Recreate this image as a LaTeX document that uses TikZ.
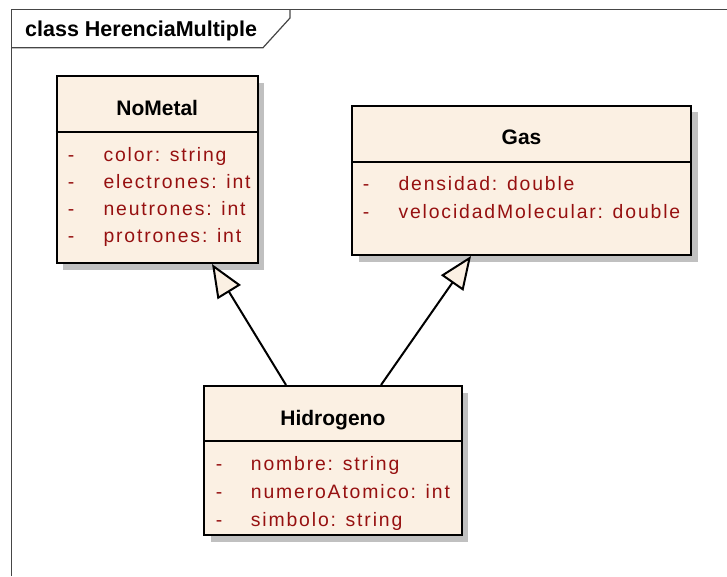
\documentclass[tikz,border=0pt]{standalone}
\usepackage{fontspec}
\setmainfont{Liberation Sans}
\newfontfamily\attrfont[LetterSpace=9.5]{Liberation Sans}
\usetikzlibrary{arrows.meta,shadows}

\definecolor{classfill}{RGB}{251,240,227}
\definecolor{attrred}{RGB}{150,16,16}
\definecolor{shadowgray}{RGB}{192,192,192}
\definecolor{framegray}{RGB}{70,70,70}

\begin{document}
\begin{tikzpicture}[x=1pt,y=-1pt,
  classbox/.style={rectangle, draw=black, line width=2pt, fill=classfill, inner sep=0pt,
    drop shadow={shadow xshift=6.5pt, shadow yshift=-6.5pt, fill=shadowgray, opacity=1}},
  divider/.style={line width=2pt, black},
  classname/.style={font=\fontsize{21}{25}\selectfont\bfseries, anchor=base, inner sep=0pt},
  attr/.style={font=\fontsize{19.4}{23}\attrfont, text=attrred, anchor=base west, inner sep=0pt},
  inherit/.style={line width=2pt, black,
    -{Triangle[open, length=33pt, width=27pt, fill=classfill]}},
  framing/.style={framegray, line width=1.2pt},
]
\useasboundingbox (0,0) rectangle (727,576);

% diagram frame with its name tab
\draw[framing] (11.7,576) -- (11.7,9.3) -- (727,9.3);
\draw[framing] (11.7,47.7) -- (263,47.7) -- (290,18) -- (290,9.3);
\node[font=\fontsize{21.5}{25}\selectfont\bfseries, anchor=base west, inner sep=0pt]
  (frametitle) at (25,36) {class HerenciaMultiple};

% class NoMetal
\node[classbox, minimum width=201pt, minimum height=187pt] (nometal) at (157.2,169.5) {};
\draw[divider] ([yshift=-56.7pt]nometal.north west) -- ([yshift=-56.7pt]nometal.north east);
\node[classname] (nometalname) at (157.2,115) {NoMetal};
\node[attr] (nm1d) at (67.7,161.1) {-};
\node[attr] (nm1) at (103.3,161.1) {color: string};
\node[attr] (nm2d) at (67.7,188.3) {-};
\node[attr] (nm2) at (103.3,188.3) {electrones: int};
\node[attr] (nm3d) at (67.7,215.5) {-};
\node[attr] (nm3) at (103.3,215.5) {neutrones: int};
\node[attr] (nm4d) at (67.7,242.7) {-};
\node[attr] (nm4) at (103.3,242.7) {protrones: int};

% class Gas
\node[classbox, minimum width=339pt, minimum height=149.3pt] (gas) at (521.5,180.35) {};
\draw[divider] ([yshift=-57.3pt]gas.north west) -- ([yshift=-57.3pt]gas.north east);
\node[classname] (gasname) at (521.5,144.3) {Gas};
\node[attr] (g1d) at (362.7,190) {-};
\node[attr] (g1) at (398.3,190) {densidad: double};
\node[attr] (g2d) at (362.7,218.3) {-};
\node[attr] (g2) at (398.3,218.3) {velocidadMolecular: double};

% class Hidrogeno
\node[classbox, minimum width=257.7pt, minimum height=149pt] (hidrogeno) at (332.85,460.5) {};
\draw[divider] ([yshift=-56pt]hidrogeno.north west) -- ([yshift=-56pt]hidrogeno.north east);
\node[classname] (hidrogenoname) at (332.85,425) {Hidrogeno};
\node[attr] (h1d) at (215.7,470.7) {-};
\node[attr] (h1) at (250.7,470.7) {nombre: string};
\node[attr] (h2d) at (215.7,498.3) {-};
\node[attr] (h2) at (250.7,498.3) {numeroAtomico: int};
\node[attr] (h3d) at (215.7,526.7) {-};
\node[attr] (h3) at (250.7,526.7) {simbolo: string};

% generalizations
\draw[inherit] ([xshift=83pt]hidrogeno.north west) -- ([xshift=156.3pt]nometal.south west);
\draw[inherit] ([xshift=178pt]hidrogeno.north west) -- ([xshift=120pt]gas.south west);
\end{tikzpicture}
\end{document}
